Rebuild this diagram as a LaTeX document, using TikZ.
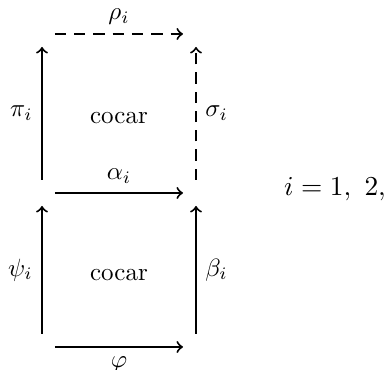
\documentclass[tikz,border=0pt]{standalone}
\usepackage{tikz}
\usetikzlibrary{arrows, positioning, calc}
\tikzstyle{corner} = [rectangle, inner sep=5pt, minimum size=0pt]
\tikzstyle{arrow} = [thick,->,>=to]
\tikzstyle{darrow} = [thick,->,>=to, dash pattern=on 4.5pt off 3.2pt]

\begin{document}
\begin{tikzpicture}[x=0.4pt, y=-0.4pt]
    \useasboundingbox (0,0) rectangle (389,370);

    % Corners of the two squares
    \node (tl) [corner] at (42,34) {};
    \node (tr) [corner, right=51.2pt of tl] {};
    \node (ml) [corner, below=53.2pt of tl] {};
    \node (mr) [corner, right=51.2pt of ml] {};
    \node (bl) [corner, below=51.2pt of ml] {};
    \node (br) [corner, right=51.2pt of bl] {};

    % Inside the squares
    \node (top) at ($(tl)!0.5!(mr)$) [yshift=-2pt] {cocar};
    \node (bot) at ($(ml)!0.5!(br)$) [yshift=-2pt] {cocar};

    % Range of the index
    \node (eq) [right=28.8pt of mr, yshift=1.5pt, inner xsep=1pt, font=\fontsize{10.5}{12}\selectfont] {$i = 1,\ 2,$};

    % Arrows
    \draw [darrow] (tl) -- node[anchor=south] {$\rho_i$} (tr);
    \draw [arrow] (ml) -- node[anchor=east] {$\pi_i$} (tl);
    \draw [darrow] (mr) -- node[anchor=west] {$\sigma_i$} (tr);
    \draw [arrow] (ml) -- node[anchor=south] {$\alpha_i$} (mr);
    \draw [arrow] (bl) -- node[anchor=east] {$\psi_i$} (ml);
    \draw [arrow] (br) -- node[anchor=west] {$\beta_i$} (mr);
    \draw [arrow] (bl) -- node[anchor=north] {$\varphi$} (br);

\end{tikzpicture}
\end{document}
